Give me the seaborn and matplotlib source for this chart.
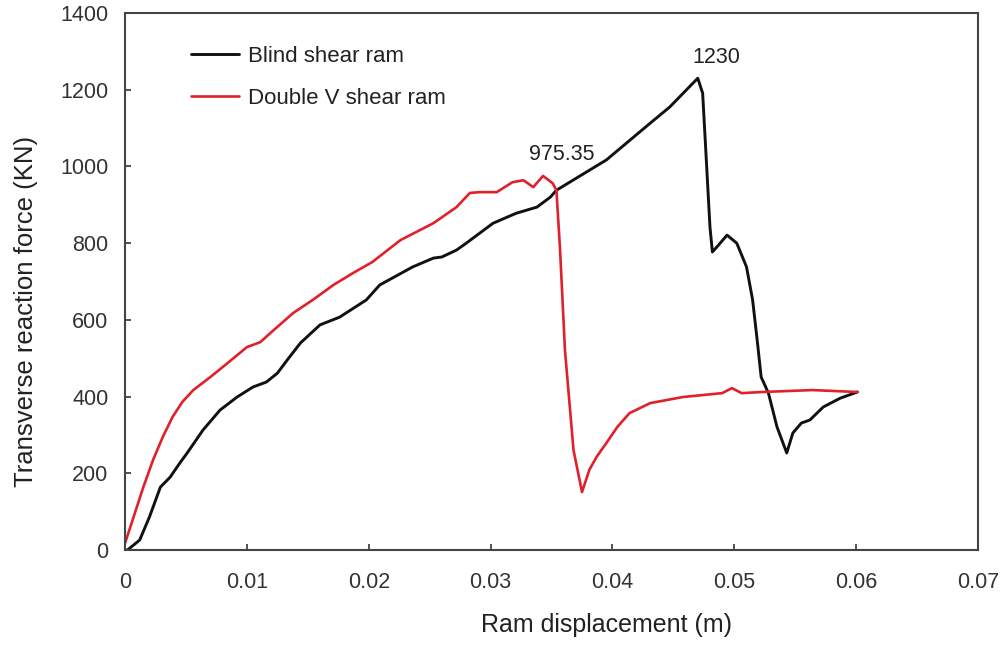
import numpy as np
import pandas as pd
import matplotlib
matplotlib.use("Agg")
import matplotlib.pyplot as plt
import seaborn as sns

blind_x = [0, 0.0002, 0.0012, 0.002, 0.0029, 0.0037, 0.0045, 0.0051, 0.0064, 0.0078, 0.0092,
           0.0105, 0.0116, 0.0125, 0.0133, 0.0144, 0.016, 0.0176, 0.0198, 0.0209, 0.0236,
           0.0253, 0.026, 0.0272, 0.028, 0.0302, 0.0321, 0.0338, 0.0349, 0.0354, 0.0395,
           0.0431, 0.0447, 0.047, 0.0474, 0.0477, 0.048, 0.0482, 0.0487, 0.0494, 0.0502,
           0.051, 0.0515, 0.0519, 0.0522, 0.0528, 0.0535, 0.0543, 0.0548, 0.0555, 0.0562,
           0.0573, 0.0587, 0.0601]
blind_y = [0, 0, 26, 86, 164, 190, 227, 253, 313, 365, 399,
           425, 438, 461, 495, 540, 587, 607, 652, 691, 738,
           761, 764, 782, 800, 852, 878, 894, 920, 938, 1017,
           1113, 1155, 1230, 1191, 1017, 842, 777, 795, 821, 800,
           738, 652, 540, 451, 409, 321, 253, 305, 331, 339,
           373, 396, 412]

double_x = [0, 0.0007, 0.0015, 0.0023, 0.0031, 0.0039, 0.0047, 0.0056, 0.007, 0.0084, 0.010,
            0.0111, 0.0119, 0.0138, 0.0154, 0.0171, 0.0187, 0.0203, 0.0226, 0.0253, 0.0272,
            0.0283, 0.0291, 0.0305, 0.0318, 0.0327, 0.0335, 0.0343, 0.0351, 0.0354, 0.0357,
            0.0361, 0.0368, 0.0375, 0.0381, 0.0387, 0.0395, 0.0404, 0.0414, 0.0431, 0.0458,
            0.049, 0.0498, 0.0506, 0.0523, 0.0564, 0.0601]
double_y = [18, 86, 164, 235, 295, 347, 386, 417, 451, 487, 529,
            542, 565, 618, 652, 691, 722, 751, 808, 852, 894,
            931, 933, 933, 959, 964, 946, 975.35, 956, 938, 782,
            521, 261, 151, 209, 243, 279, 321, 357, 383, 399,
            409, 422, 409, 412, 417, 412]

labels = ["Blind shear ram", "Double V shear ram"]
x_ticks = [0, 0.01, 0.02, 0.03, 0.04, 0.05, 0.06, 0.07]
x_tick_labels = ["0", "0.01", "0.02", "0.03", "0.04", "0.05", "0.06", "0.07"]
y_ticks = [0, 200, 400, 600, 800, 1000, 1200, 1400]
peak_labels = ["1230", "975.35"]

sns.set_theme(style="ticks")
plt.rcParams['font.family'] = ['Liberation Sans', 'DejaVu Sans']

fig = plt.figure(figsize=(10.02, 6.48), dpi=100)
ax = fig.add_axes([0.1248, 0.1512, 0.8513, 0.8287])

sns.lineplot(x=blind_x, y=blind_y, sort=False, color="#111111", lw=2.1, ax=ax,
             label=labels[0], solid_joinstyle="round")
sns.lineplot(x=double_x, y=double_y, sort=False, color="#e0202a", lw=1.9, ax=ax,
             label=labels[1], solid_joinstyle="round")

ax.set_xlim(0, 0.07)
ax.set_ylim(0, 1400)
ax.set_xticks(x_ticks)
ax.set_xticklabels(x_tick_labels)
ax.set_yticks(y_ticks)
ax.tick_params(direction="in", length=4, width=1.2, colors="#333333", labelsize=15.5)
ax.tick_params(axis="x", pad=15.5)
ax.tick_params(axis="y", pad=12)
for s in ax.spines.values():
    s.set_color("#444444")
    s.set_linewidth(1.5)

ax.set_xlabel("Ram displacement (m)", fontsize=18, color="#222222")
ax.set_ylabel("Transverse reaction force (KN)", fontsize=18.5, color="#222222")
ax.xaxis.set_label_coords(0.565, -0.118)
ax.yaxis.set_label_coords(-0.102, 0.445)

ax.text(0.0485, 1285, peak_labels[0], fontsize=15.5, color="#222222", ha="center", va="center")
ax.text(0.03585, 1030, peak_labels[1], fontsize=15.5, color="#222222", ha="center", va="center")

leg = ax.legend(loc="upper left", bbox_to_anchor=(0.0673, 0.955), frameon=False, fontsize=16,
                handlelength=2.15, handletextpad=0.4, labelspacing=0.95, borderaxespad=0)
for t in leg.get_texts():
    t.set_color("#222222")

fig.savefig("out.png", dpi=100)
